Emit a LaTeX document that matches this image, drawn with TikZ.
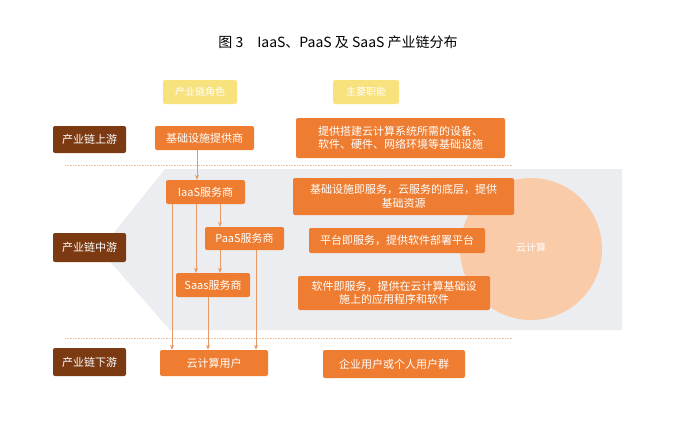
\documentclass[tikz,border=0pt]{standalone}
\usepackage{fontspec}
\setmainfont{Noto Sans CJK SC}
\usetikzlibrary{arrows.meta}
\definecolor{boxor}{HTML}{EE7D31}
\definecolor{dkbr}{HTML}{7B3A12}
\definecolor{ylw}{HTML}{F8E27E}
\definecolor{arc}{HTML}{E39A66}
\definecolor{gr}{HTML}{ECEDF0}
\definecolor{circ}{HTML}{F9CBA8}
\begin{document}
\begin{tikzpicture}[x=1pt,y=-1pt,
 ob/.style={fill=boxor,text=white,rounded corners=2pt,inner sep=0pt,font=\fontsize{11}{13.5}\selectfont,align=center},
 lb/.style={fill=dkbr,text=white,rounded corners=2pt,inner sep=0pt,font=\fontsize{11}{13}\selectfont},
 yb/.style={fill=ylw,text=white,rounded corners=2pt,inner sep=0pt,font=\fontsize{10}{12}\selectfont},
 ar/.style={draw=arc,line width=0.6pt,-{Stealth[length=5pt,width=4pt]}}]
\useasboundingbox (0,0) rectangle (675,442);
\fill[white] (0,0) rectangle (675,442);
\fill[gr] (100,250) -- (165,169) -- (622,169) -- (622,330) -- (170,330) -- cycle;
\fill[circ] (531,249) circle (71);
\node[text=white,font=\fontsize{10}{12}\selectfont] (cc) at (531,248) {云计算};
\node[font=\fontsize{14}{16}\selectfont] (t) at (338,42) {图 3\quad IaaS、PaaS 及 SaaS 产业链分布};
\draw[densely dotted,draw=arc!60,line width=0.6pt] (65,165) -- (513,165);
\draw[densely dotted,draw=arc!60,line width=0.6pt] (65,338) -- (513,338);
\node[yb,minimum width=74,minimum height=24] (h1) at (200,92) {产业链角色};
\node[yb,minimum width=66,minimum height=24] (h2) at (366,92) {主要职能};
\node[lb,minimum width=73,minimum height=27] (l1) at (89.5,139.5) {产业链上游};
\node[lb,minimum width=73,minimum height=29] (l2) at (89.5,247.5) {产业链中游};
\node[lb,minimum width=73,minimum height=28] (l3) at (89.5,362) {产业链下游};
\node[ob,minimum width=99,minimum height=24] (p0) at (204.5,138) {基础设施提供商};
\node[ob,minimum width=79,minimum height=24] (ia) at (205.5,192) {IaaS服务商};
\node[ob,minimum width=79,minimum height=23] (pa) at (244.5,238.5) {PaaS服务商};
\node[ob,minimum width=74,minimum height=24] (sa) at (213,285) {Saas服务商};
\node[ob,minimum width=108,minimum height=26] (us) at (214,363) {云计算用户};
\node[ob,minimum width=209,minimum height=40] (r1) at (400.5,138) {提供搭建云计算系统所需的设备、\\软件、硬件、网络环境等基础设施};
\node[ob,minimum width=221,minimum height=37] (r2) at (403.5,196.5) {基础设施即服务，云服务的底层，提供\\基础资源};
\node[ob,minimum width=176,minimum height=25] (r3) at (397,240.5) {平台即服务，提供软件部署平台};
\node[ob,minimum width=192,minimum height=34] (r4) at (394,293) {软件即服务，提供在云计算基础设\\施上的应用程序和软件};
\node[ob,minimum width=142,minimum height=28] (r5) at (394,364) {企业用户或个人用户群};
\draw[ar] (p0.south -| 197,0) -- (ia.north -| 197,0);
\draw[ar] (ia.south -| 172,0) -- (us.north -| 172,0);
\draw[ar] (ia.south -| 196,0) -- (sa.north -| 196,0);
\draw[ar] (ia.south -| 220,0) -- (pa.north -| 220,0);
\draw[ar] (pa.south -| 220,0) -- (sa.north -| 220,0);
\draw[ar] (pa.south -| 256,0) -- (us.north -| 256,0);
\draw[ar] (sa.south -| 208,0) -- (us.north -| 208,0);
\end{tikzpicture}
\end{document}
